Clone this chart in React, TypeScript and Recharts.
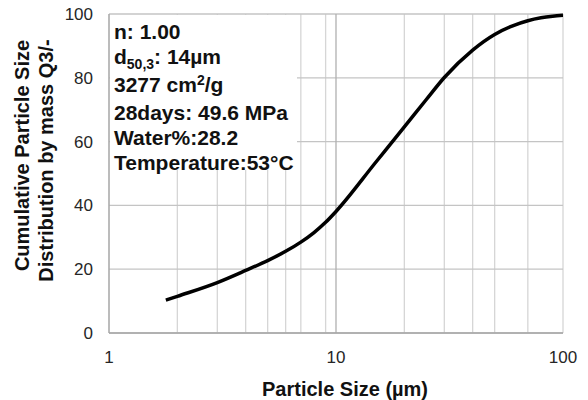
import React from "react";
import {
  LineChart,
  Line,
  XAxis,
  YAxis,
  CartesianGrid,
  ReferenceLine,
} from "recharts";

// particle size (µm) vs cumulative passing (%)
const sizes = [1.78, 2, 3, 4, 5, 6, 7, 8, 9, 10, 15, 20, 25, 30, 40, 50, 60, 70, 80, 90, 100];
const cumulative = [10.3, 11.5, 15.8, 19.6, 22.7, 25.6, 28.5, 31.5, 34.7, 38.1, 53.6, 64.6, 73.2, 80.1, 88.7, 93.6, 96.3, 97.9, 98.8, 99.3, 99.6];

const xTicks = [1, 10, 100];
const yTicks = [0, 20, 40, 60, 80, 100];
const minorX = [2, 3, 4, 5, 6, 7, 8, 9, 20, 30, 40, 50, 60, 70, 80, 90, 100];

const infoLines = ["n: 1.00", "d50,3: 14µm", "3277 cm2/g", "28days: 49.6 MPa", "Water%:28.2", "Temperature:53°C"];

const data = sizes.map((s, i) => ({ size: s, q3: cumulative[i] }));

const FONT = "Arial, 'Liberation Sans', Helvetica, sans-serif";

function YTitle(props: any) {
  const vb = props.viewBox;
  const yc = vb.y + vb.height / 2;
  const x1 = vb.x - 20;
  const x2 = vb.x + 4;
  return (
    <g fontFamily={FONT} fontWeight="bold" fontSize={20} fill="#111">
      <text x={x1} y={yc - 18} textAnchor="middle" transform={`rotate(-90, ${x1}, ${yc - 18})`}>
        Cumulative Particle Size
      </text>
      <text x={x2} y={yc - 13} textAnchor="middle" transform={`rotate(-90, ${x2}, ${yc - 13})`}>
        Distribution by mass Q3/-
      </text>
    </g>
  );
}

function XTitle(props: any) {
  const vb = props.viewBox;
  return (
    <text
      x={vb.x + vb.width / 2 + 9}
      y={396}
      textAnchor="middle"
      fontFamily={FONT}
      fontWeight="bold"
      fontSize={20}
      fill="#111"
    >
      Particle Size (µm)
    </text>
  );
}

function InfoLine({ text }: { text: string }) {
  if (text.startsWith("d50,3")) {
    return (
      <div>
        d<span style={{ fontSize: 14, position: "relative", top: 5 }}>50,3</span>
        {text.slice(5)}
      </div>
    );
  }
  if (text.includes("cm2")) {
    const i = text.indexOf("cm2") + 2;
    return (
      <div>
        {text.slice(0, i)}
        <span style={{ fontSize: 14, position: "relative", top: -7 }}>2</span>
        {text.slice(i + 1)}
      </div>
    );
  }
  return <div>{text}</div>;
}

export default function App() {
  return (
    <div style={{ position: "absolute", left: 0, top: 0, width: 588, height: 400, background: "#fff" }}>
      <LineChart
        width={588}
        height={400}
        data={data}
        margin={{ top: 14, right: 25, left: 49, bottom: 7 }}
      >
        <CartesianGrid xAxisId="minor" horizontal={false} stroke="#d6d6d6" strokeWidth={1.3} />
        <CartesianGrid vertical={false} stroke="#c4c4c4" strokeWidth={1.3} />
        <ReferenceLine x={10} stroke="#b0b0b0" strokeWidth={1.3} />
        <XAxis
          xAxisId="minor"
          dataKey="size"
          type="number"
          scale="log"
          domain={[1, 100]}
          ticks={minorX}
          allowDataOverflow
          hide
        />
        <XAxis
          dataKey="size"
          type="number"
          scale="log"
          domain={[1, 100]}
          ticks={xTicks}
          allowDataOverflow
          height={60}
          tickLine={false}
          tickSize={0}
          tickMargin={18}
          stroke="#a6a6a6"
          strokeWidth={1.3}
          tick={{ fill: "#262626", fontSize: 17, fontFamily: FONT }}
          label={<XTitle />}
        />
        <YAxis
          type="number"
          domain={[0, 100]}
          ticks={yTicks}
          width={60}
          tickLine={false}
          tickSize={0}
          tickMargin={16}
          stroke="#a6a6a6"
          strokeWidth={1.3}
          tick={{ fill: "#262626", fontSize: 17, fontFamily: FONT }}
          label={<YTitle />}
        />
        <Line
          dataKey="q3"
          type="monotone"
          stroke="#000"
          strokeWidth={3.5}
          dot={false}
          isAnimationActive={false}
        />
      </LineChart>
      <div
        style={{
          position: "absolute",
          left: 110,
          top: 15,
          width: 187,
          height: 155,
          background: "#fff",
          boxSizing: "border-box",
          paddingLeft: 4,
          paddingTop: 4,
          fontFamily: FONT,
          fontWeight: "bold",
          fontSize: 21,
          lineHeight: "25px",
          color: "#111",
          whiteSpace: "nowrap",
        }}
      >
        {infoLines.map((t) => (
          <InfoLine key={t} text={t} />
        ))}
      </div>
    </div>
  );
}
